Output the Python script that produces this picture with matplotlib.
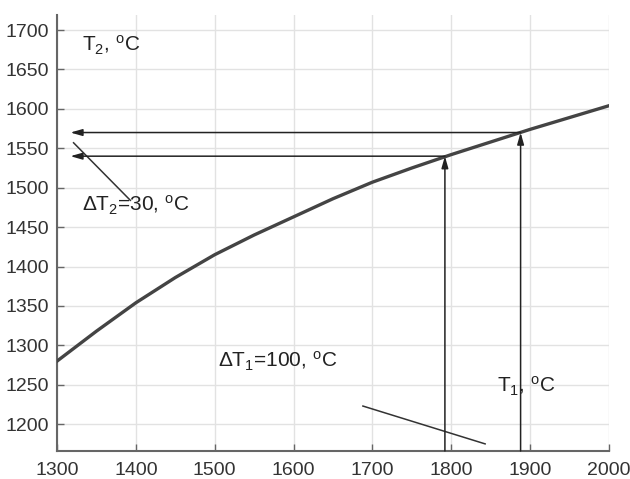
import numpy as np
import matplotlib
matplotlib.use('Agg')
import matplotlib.pyplot as plt

plt.rcParams['font.family'] = ['Liberation Sans', 'DejaVu Sans']
plt.rcParams['mathtext.fontset'] = 'custom'
plt.rcParams['mathtext.rm'] = 'Liberation Sans'
plt.rcParams['mathtext.it'] = 'Liberation Sans:italic'
plt.rcParams['mathtext.default'] = 'rm'

# T2 as a function of T1
t1 = [1300, 1350, 1400, 1450, 1500, 1550, 1600, 1650, 1700, 1750, 1800, 1850, 1900, 1950, 2000]
t2 = [1280, 1318, 1354, 1386, 1415, 1440, 1463, 1486, 1507, 1525, 1542, 1558, 1574, 1589, 1604]

# the two operating points picked off the curve
op_t1 = [1792, 1888]
op_t2 = [1540, 1570]

fig = plt.figure(figsize=(6.3, 4.79), dpi=100)
ax = fig.add_axes([0.0905, 0.0585, 0.876, 0.910])

ax.plot(t1, t2, color='#444444', lw=2.4, zorder=3)

ax.set_xlim(1300, 2000)
ax.set_ylim(1166, 1719)
ax.set_xticks(np.arange(1300, 2001, 100))
ax.set_yticks(np.arange(1200, 1701, 50))
ax.grid(True, color='#e2e2e2', lw=1.0)
ax.set_axisbelow(True)
for s in ['top', 'right']:
    ax.spines[s].set_visible(False)
for s in ['left', 'bottom']:
    ax.spines[s].set_color('#666666')
    ax.spines[s].set_linewidth(1.5)
ax.tick_params(direction='in', length=5, width=1, colors='#666666',
               labelcolor='#333333', labelsize=14)
ax.tick_params(axis='x', pad=8)
ax.tick_params(axis='y', pad=6)

arrow = dict(arrowstyle='-|>,head_width=0.2,head_length=0.7', color='#222222',
             lw=1.1, shrinkA=0, shrinkB=0)
ymin = ax.get_ylim()[0]
for x, y in zip(op_t1, op_t2):
    ax.annotate('', xy=(x, y), xytext=(x, ymin), arrowprops=arrow, zorder=4)
    ax.annotate('', xy=(1317, y), xytext=(x, y), arrowprops=arrow, zorder=4)

# leader lines
ax.plot([1321, 1393], [1557, 1484], color='#333333', lw=1.1)
ax.plot([1688, 1843], [1223, 1175], color='#333333', lw=1.1)

fs = 15
ax.text(1332, 1681, r'T$_2$, $^{\rm o}$C', fontsize=fs, color='#222222', va='center')
ax.text(1332, 1477, r'$\Delta$T$_2$=30, $^{\rm o}$C', fontsize=fs, color='#222222', va='center')
ax.text(1504, 1280, r'$\Delta$T$_1$=100, $^{\rm o}$C', fontsize=fs, color='#222222', va='center')
ax.text(1858, 1248, r'T$_1$, $^{\rm o}$C', fontsize=fs, color='#222222', va='center')

fig.savefig('out.png', dpi=100)
